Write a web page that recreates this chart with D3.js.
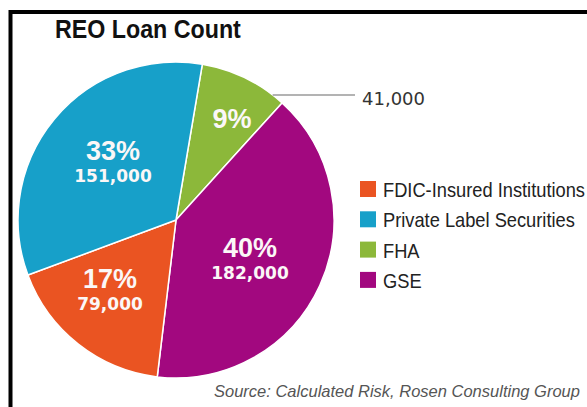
<!DOCTYPE html>
<html>
<head>
<meta charset="utf-8">
<script src="https://cdn.jsdelivr.net/npm/d3@7"></script>
<style>
  html, body { margin: 0; padding: 0; background: #fff; }
  svg { display: block; }
</style>
</head>
<body>
<script>
// REO loan counts by holder
const categories = ["FHA", "GSE", "FDIC-Insured Institutions", "Private Label Securities"];
const values = [41000, 182000, 79000, 151000];
const percentLabels = ["9%", "40%", "17%", "33%"];
const valueLabels = ["41,000", "182,000", "79,000", "151,000"];
const legendOrder = ["FDIC-Insured Institutions", "Private Label Securities", "FHA", "GSE"];
const colors = ["#8cb83a", "#a2087f", "#ea5422", "#17a0c9"];

const W = 587, H = 407;
const svg = d3.select("body").append("svg").attr("width", W).attr("height", H);

svg.append("rect").attr("width", W).attr("height", H).attr("fill", "#fff");

// frame
svg.append("rect")
  .attr("x", 10.5).attr("y", 12)
  .attr("width", 620).attr("height", 430)
  .attr("fill", "none").attr("stroke", "#000").attr("stroke-width", 4);

// title, slightly condensed
svg.append("text")
  .attr("transform", "translate(55,38) scale(0.93,1)")
  .attr("font-family", "'Liberation Sans', Arial, sans-serif")
  .attr("font-weight", "bold").attr("font-size", 25)
  .attr("fill", "#111")
  .text("REO Loan Count");

const color = d3.scaleOrdinal().domain(categories).range(colors);

const cx = 176, cy = 220, r = 158;
const start = 9.6 * Math.PI / 180;
const pie = d3.pie().sort(null).value(d => d.value)
  .startAngle(start).endAngle(start + 2 * Math.PI);
const data = categories.map((c, i) => ({ cat: c, value: values[i], pct: percentLabels[i], lab: valueLabels[i] }));
const arcs = pie(data);
const arc = d3.arc().innerRadius(0).outerRadius(r);

const g = svg.append("g").attr("transform", `translate(${cx},${cy})`);
g.selectAll("path").data(arcs).join("path")
  .attr("d", arc)
  .attr("fill", d => color(d.data.cat))
  .attr("stroke", "#fff").attr("stroke-width", 1.5)
  .attr("stroke-linejoin", "round");

// in-slice labels (offsets relative to pie centre)
const labelPos = {
  "FHA": [56, -92],
  "GSE": [74, 37],
  "FDIC-Insured Institutions": [-66, 68],
  "Private Label Securities": [-63, -60]
};
arcs.forEach(d => {
  const [lx, ly] = labelPos[d.data.cat];
  g.append("text")
    .attr("x", lx).attr("y", ly)
    .attr("text-anchor", "middle")
    .attr("font-family", "'Liberation Sans', Arial, sans-serif")
    .attr("font-weight", "bold").attr("font-size", 27)
    .attr("fill", "#fbf7f7")
    .text(d.data.pct);
  if (d.data.cat !== "FHA") {
    g.append("text")
      .attr("x", lx).attr("y", ly + 22)
      .attr("text-anchor", "middle")
      .attr("font-family", "'DejaVu Sans', sans-serif")
      .attr("font-weight", "bold").attr("font-size", 17)
      .attr("fill", "#fbf7f7")
      .text(d.data.lab);
  }
});

// callout for the small FHA slice
const fha = arcs.find(d => d.data.cat === "FHA");
const ly = 95 - cy;
const lx0 = Math.sqrt(r * r - ly * ly);
g.append("line")
  .attr("x1", lx0).attr("y1", ly).attr("x2", 355 - cx).attr("y2", ly)
  .attr("stroke", "#9a9a9a").attr("stroke-width", 1.5);
g.append("text")
  .attr("x", 362 - cx).attr("y", ly + 10)
  .attr("font-family", "'DejaVu Sans', sans-serif")
  .attr("font-size", 18).attr("fill", "#333")
  .text(fha.data.lab);

// legend
const legend = svg.append("g").attr("transform", "translate(360,197)");
const rows = legend.selectAll("g").data(legendOrder).join("g")
  .attr("transform", (d, i) => `translate(0,${i * 30.3})`);
rows.append("rect")
  .attr("x", 0).attr("y", -16).attr("width", 16).attr("height", 16)
  .attr("fill", d => color(d));
rows.append("text")
  .attr("transform", "translate(23,0) scale(0.87,1)")
  .attr("font-family", "'Liberation Sans', Arial, sans-serif")
  .attr("font-size", 21).attr("fill", "#222")
  .text(d => d);

svg.append("text")
  .attr("x", 214).attr("y", 397)
  .attr("font-family", "'Liberation Sans', Arial, sans-serif")
  .attr("font-style", "italic").attr("font-size", 16.5)
  .attr("fill", "#555")
  .text("Source: Calculated Risk, Rosen Consulting Group");
</script>
</body>
</html>
